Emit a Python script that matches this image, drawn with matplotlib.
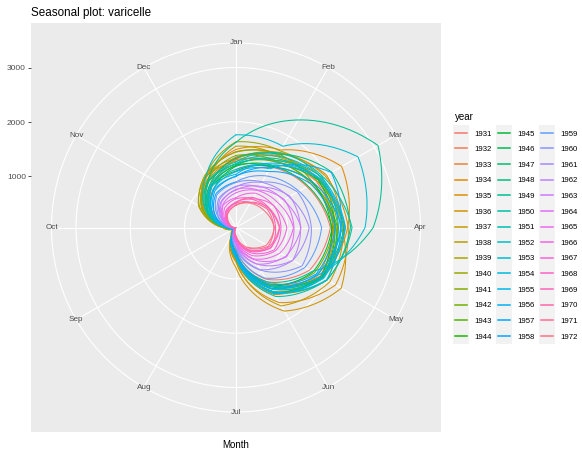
import matplotlib
matplotlib.use("Agg")
import numpy as np
import matplotlib.pyplot as plt
from matplotlib.patches import Rectangle

plt.rcParams['font.family'] = ['Liberation Sans', 'DejaVu Sans']

month_labels = ['Jan', 'Feb', 'Mar', 'Apr', 'May', 'Jun',
                'Jul', 'Aug', 'Sep', 'Oct', 'Nov', 'Dec']
years = list(range(1931, 1973))

# monthly cases, Jan..Dec (approximate)
cases_1930s = [
    [1120, 1340, 1560, 1790, 1620, 1150, 440, 175, 98, 205, 520, 930],
    [1300, 1450, 1760, 1850, 1840, 1210, 560, 160, 92, 230, 660, 990],
    [1350, 1580, 1820, 2060, 1880, 1420, 570, 205, 104, 240, 710, 1130],
    [1490, 1700, 2300, 2110, 1870, 1480, 660, 195, 108, 265, 740, 1070],
    [1310, 1650, 1950, 2120, 2170, 1650, 690, 230, 112, 300, 760, 1160],
    [1450, 1620, 1980, 2000, 2290, 1830, 790, 215, 110, 295, 850, 1150],
    [1330, 1560, 1770, 2030, 2050, 1720, 660, 220, 102, 285, 780, 1140],
    [1270, 1480, 1650, 1900, 1990, 1440, 640, 185, 97, 250, 770, 1060],
    [1550, 1590, 1800, 1830, 1800, 1300, 580, 170, 93, 255, 750, 1160],
]
cases_1940s = [
    [1630, 1680, 1870, 1870, 1860, 1250, 540, 175, 89, 270, 830, 1180],
    [1440, 1620, 1690, 1850, 1720, 1270, 490, 158, 87, 245, 790, 1090],
    [1380, 1480, 1820, 1930, 1900, 1360, 580, 180, 91, 240, 670, 1040],
    [1220, 1460, 1680, 1920, 1880, 1440, 570, 170, 93, 220, 640, 950],
    [1200, 1340, 1700, 1810, 1860, 1290, 560, 172, 88, 215, 580, 940],
    [1090, 1360, 1580, 1820, 1690, 1300, 500, 155, 86, 200, 580, 870],
    [1180, 1380, 1800, 1880, 1890, 1310, 570, 178, 90, 225, 590, 960],
    [1190, 1520, 1810, 2040, 1860, 1440, 560, 170, 92, 232, 660, 990],
    [1330, 1610, 2090, 2160, 1990, 1410, 620, 188, 95, 238, 700, 1070],
    [1620, 2340, 3074, 2580, 1670, 1210, 525, 166, 88, 232, 665, 1055],
]
cases_1950s = [
    [1260, 1640, 1910, 2190, 1980, 1520, 600, 192, 96, 245, 640, 1050],
    [1220, 1480, 1890, 1940, 1920, 1360, 595, 170, 92, 215, 635, 980],
    [1230, 1570, 1880, 2070, 1910, 1460, 580, 185, 94, 240, 700, 1150],
    [1760, 1780, 2650, 2430, 1800, 1300, 552, 171, 90, 216, 602, 955],
    [1120, 1370, 1840, 1980, 1980, 1420, 615, 175, 93, 205, 570, 935],
    [1030, 1420, 1850, 2060, 1900, 1450, 560, 180, 90, 210, 550, 880],
    [1080, 1300, 2080, 1980, 1860, 1340, 565, 160, 88, 185, 545, 860],
    [990, 1330, 1700, 2010, 1780, 1350, 520, 168, 85, 188, 490, 830],
    [1000, 1240, 1650, 1880, 1760, 1250, 515, 150, 82, 165, 495, 780],
    [890, 1150, 1390, 1630, 1520, 1130, 440, 148, 78, 168, 430, 750],
]
cases_1960s = [
    [880, 1020, 1360, 1440, 1460, 960, 425, 125, 74, 148, 410, 680],
    [800, 1010, 1180, 1400, 1260, 950, 370, 126, 70, 145, 360, 650],
    [810, 910, 1200, 1240, 1260, 830, 360, 108, 67, 130, 355, 605],
    [740, 930, 1060, 1250, 1110, 830, 320, 110, 64, 132, 325, 585],
    [755, 850, 1080, 1120, 1130, 740, 318, 96, 62, 122, 315, 540],
    [690, 840, 950, 1110, 990, 720, 282, 99, 60, 121, 288, 525],
    [600, 780, 850, 990, 900, 650, 262, 88, 58, 112, 265, 470],
    [580, 660, 860, 880, 870, 590, 240, 84, 56, 105, 240, 420],
    [510, 690, 760, 860, 790, 560, 225, 79, 54, 98, 225, 400],
    [500, 590, 760, 780, 800, 520, 212, 75, 53, 95, 205, 380],
]
cases_1970s = [
    [520, 650, 740, 850, 760, 540, 220, 72, 52, 90, 200, 360],
    [470, 580, 720, 750, 740, 480, 200, 70, 51, 86, 192, 350],
    [460, 570, 660, 760, 700, 470],
]
cases = cases_1930s + cases_1940s + cases_1950s + cases_1960s + cases_1970s


def hue_pal(n, c=100, l=65):
    # ggplot2-style hue palette (polar LUV -> sRGB)
    hues = np.linspace(15, 375, n + 1)[:n]
    xn, yn, zn = 0.95047, 1.0, 1.08883
    un = 4 * xn / (xn + 15 * yn + 3 * zn)
    vn = 9 * yn / (xn + 15 * yn + 3 * zn)
    m = np.array([[3.2404542, -1.5371385, -0.4985314],
                  [-0.9692660, 1.8760108, 0.0415560],
                  [0.0556434, -0.2040259, 1.0572252]])
    out = []
    for h in hues:
        u = c * np.cos(np.deg2rad(h))
        v = c * np.sin(np.deg2rad(h))
        y = ((l + 16) / 116) ** 3
        up = u / (13 * l) + un
        vp = v / (13 * l) + vn
        x = y * 9 * up / (4 * vp)
        z = y * (12 - 3 * up - 20 * vp) / (4 * vp)
        rgb = np.clip(m @ np.array([x, y, z]), 0, 1)
        rgb = np.where(rgb <= 0.0031308, 12.92 * rgb,
                       1.055 * rgb ** (1 / 2.4) - 0.055)
        out.append(tuple(float(k) for k in np.clip(rgb, 0, 1)))
    return out


colors = hue_pal(len(years))

fig = plt.figure(figsize=(5.82, 4.5), dpi=100)
W, H = 582, 450

vals = np.concatenate([np.array(r, dtype=float) for r in cases])
vmin, vmax = vals.min(), vals.max()
span = vmax - vmin

# grey panel with the radial axis on the left
ax_bg = fig.add_axes([31 / W, 1 - 432 / H, 410 / W, 409 / H])
ax_bg.set_facecolor('#EBEBEB')
for s in ax_bg.spines.values():
    s.set_visible(False)
ax_bg.set_xticks([])
ax_bg.set_ylim(vmin - 1.25 * span, vmin + 1.25 * span)
ax_bg.set_yticks([1000, 2000, 3000])
ax_bg.tick_params(axis='y', length=2.2, width=0.6, color='#333333',
                  labelsize=6.0, labelcolor='#4D4D4D', pad=1.5)
ax_bg.set_xlabel('Month', fontsize=7, color='black', labelpad=5.5)
ax_bg.set_title('Seasonal plot: varicelle', loc='left', fontsize=8.4, pad=5)

# polar panel
cx, cy, rad = 236, 227.5, 184.5
ax = fig.add_axes([(cx - rad) / W, 1 - (cy + rad) / H, 2 * rad / W, 2 * rad / H],
                  projection='polar')
ax.patch.set_alpha(0)
ax.set_theta_zero_location('N')
ax.set_theta_direction(-1)
rtop = vmin + span * 0.45 / 0.4
ax.set_ylim(vmin, rtop)
ax.set_rgrids([1000, 2000, 3000], labels=[])
ax.set_thetagrids(np.arange(12) * 30, labels=[])
ax.grid(True, color='white', linewidth=0.8)
ax.spines['polar'].set_color('white')
ax.spines['polar'].set_linewidth(0.8)
ax.tick_params(length=0)

for i, lab in enumerate(month_labels):
    ax.text(np.deg2rad(i * 30), rtop, lab, ha='center', va='center',
            fontsize=5.9, color='#4D4D4D')

handles = []
for i, yr in enumerate(years):
    v = list(cases[i])
    if i + 1 < len(cases):
        v = v + [cases[i + 1][0]]
    months = np.arange(1, len(v) + 1)
    theta = (months - 1) * 2 * np.pi / 12
    ln, = ax.plot(theta, v, color=colors[i], linewidth=0.75, label=str(yr))
    ln.get_path()._interpolation_steps = 40
    handles.append(ln)

leg = fig.legend(handles=handles, labels=[str(y) for y in years], ncol=3,
                 loc='upper left', bbox_to_anchor=(455 / W, 1 - 112 / H),
                 frameon=False, title='year', alignment='left',
                 title_fontsize=7, fontsize=5.6, handlelength=1.55,
                 handletextpad=0.9, columnspacing=0.85, labelspacing=1.05,
                 borderpad=0, borderaxespad=0)
for h in leg.legend_handles:
    h.set_linewidth(1.1)

# grey key backgrounds behind each legend column
fig.canvas.draw()
r = fig.canvas.get_renderer()
boxes = [h.get_window_extent(r) for h in leg.legend_handles]
nrow = 14
for c in range(3):
    col = boxes[c * nrow:(c + 1) * nrow]
    x0 = min(b.x0 for b in col) - 2
    x1 = max(b.x1 for b in col) + 2
    step = (col[0].y0 - col[-1].y0) / (nrow - 1)
    y0 = col[-1].y0 - step / 2
    y1 = col[0].y0 + step / 2
    fig.patches.append(Rectangle((x0 / W, y0 / H), (x1 - x0) / W, (y1 - y0) / H,
                                 transform=fig.transFigure, facecolor='#F2F2F2',
                                 edgecolor='none', zorder=-1))

fig.savefig('out.png', dpi=100)
